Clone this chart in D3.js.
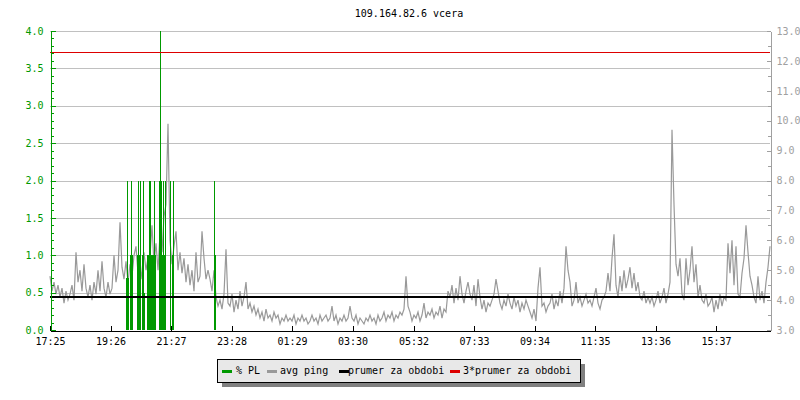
<!DOCTYPE html>
<html>
<head>
<meta charset="utf-8">
<script src="https://cdn.jsdelivr.net/npm/d3@7"></script>
<style>
body { margin: 0; background: #fff; }
text { font-family: "DejaVu Sans Mono", monospace; font-size: 10px; }
</style>
</head>
<body>
<div id="chart"></div>
<script>

//Chart title
let titleText = "109.164.82.6 vcera";

//Tick labels of the time axis (start of period is 17:25, period is 24 h)
let timeLabels = ["17:25", "19:26", "21:27", "23:28", "01:29", "03:30", "05:32", "07:33", "09:34", "11:35", "13:36", "15:37"];

//avg ping [ms], one value every 4 minutes from 17:25
let pingValues = [
    4.8, 4.3, 4.6, 4.2, 4.5, 4.1, 4.4, 3.9, 4.3, 4.0,
    4.2, 4.5, 4.0, 5.6, 4.6, 5.0, 4.3, 5.2, 4.4, 4.1,
    4.5, 4.0, 4.6, 4.2, 5.0, 4.3, 5.3, 4.4, 4.1, 4.6,
    4.2, 4.4, 5.5, 4.6, 5.0, 6.6, 5.1, 4.7, 5.3, 4.6,
    5.2, 4.8, 5.5, 5.8, 4.9, 5.3, 4.7, 5.6, 5.0, 5.4,
    5.5, 6.5, 5.2, 5.9, 5.0, 6.2, 5.6, 6.8, 7.2, 9.9,
    6.0, 5.2, 5.8, 6.3, 5.0, 5.6, 4.9, 5.4, 4.6, 5.2,
    4.5, 5.0, 4.3, 5.6, 4.6, 4.8, 6.3, 5.4, 4.7, 5.0,
    4.7, 4.3, 5.0, 4.1, 3.8, 4.0, 3.7, 4.2, 5.7, 3.9,
    3.8, 4.2, 3.6, 4.0, 3.7, 4.3, 3.8, 4.1, 4.6, 3.7,
    3.9, 3.6, 3.8, 3.5, 3.7, 3.4, 3.6, 3.3, 3.7, 3.4,
    3.5, 3.3, 3.6, 3.4, 3.5, 3.2, 3.4, 3.3, 3.5, 3.3,
    3.4, 3.3, 3.5, 3.2, 3.4, 3.3, 3.5, 3.3, 3.4, 3.2,
    3.3, 3.5, 3.3, 3.4, 3.2, 3.5, 3.3, 3.4, 3.5, 3.3,
    3.4, 3.8, 3.3, 3.5, 3.2, 3.4, 3.3, 3.5, 3.3, 3.4,
    3.8, 3.4, 3.3, 3.5, 3.2, 3.4, 3.3, 3.2, 3.4, 3.3,
    3.5, 3.3, 3.4, 3.2, 3.5, 3.3, 3.4, 3.6, 3.3, 3.5,
    3.4, 3.6, 3.3, 3.5, 3.4, 3.6, 3.5, 3.7, 4.8, 3.8,
    3.6, 3.3, 3.5, 3.4, 3.6, 3.3, 3.5, 3.9, 3.4, 3.6,
    3.5, 3.7, 3.4, 3.6, 3.5, 3.8, 3.4, 3.7, 3.6, 4.3,
    4.1, 4.5, 3.9, 4.4, 4.0, 4.8, 4.2, 3.9, 4.3, 4.6,
    4.2, 4.0, 4.5, 3.8, 4.7, 4.1, 3.7, 4.0, 3.6, 3.9,
    3.8, 4.0, 4.2, 4.7, 4.3, 3.9, 3.7, 4.0, 3.8, 4.2,
    3.9, 3.7, 4.1, 3.8, 4.0, 3.6, 3.9, 3.7, 4.0, 3.8,
    3.6, 3.4, 3.7, 3.3, 4.4, 5.1, 3.8, 3.9, 3.6, 3.8,
    3.9, 4.2, 3.7, 4.0, 3.8, 4.3, 3.9, 4.4, 5.8, 5.0,
    4.6, 3.8, 4.0, 4.6, 3.9, 4.1, 3.8, 4.0, 4.2, 3.9,
    4.0, 3.8, 4.1, 4.4, 3.9, 3.7, 4.0, 4.1, 4.3, 4.9,
    4.3, 5.4, 6.2, 4.5, 4.1, 4.8, 4.3, 5.0, 4.4, 4.7,
    5.1, 4.4, 4.9, 4.3, 4.6, 4.1, 4.0, 4.3, 3.9, 4.1,
    3.9, 4.1, 3.8, 4.0, 4.3, 3.9, 4.1, 4.4, 3.9, 4.2,
    4.6, 9.7, 7.2, 5.2, 4.8, 5.4, 4.2, 4.0, 5.4, 4.5,
    5.0, 5.8, 4.6, 5.2, 4.1, 4.5, 4.0, 3.9, 4.2, 3.8,
    3.9, 4.1, 3.6, 4.0, 3.7, 4.2, 3.8, 4.1, 4.0, 5.9,
    4.9, 6.0, 4.5, 5.8, 4.2, 4.1, 4.9, 5.4, 6.5, 5.6,
    4.8, 4.5, 4.1, 3.9, 4.8, 4.0, 4.3, 3.9, 4.6, 5.1, 5.8
];
let pingStep = 4;

//% PL, only the minutes (from 17:25) with a loss
let plMinutes = [152, 154, 156, 160, 162, 164, 174, 176, 178, 180, 184, 186, 188,
    194, 196, 198, 200, 202, 204, 206, 208, 210, 218, 220, 222, 224, 226, 228, 230,
    240, 244, 246, 328, 330];
let plValues = [0.7, 2.0, 0.7, 1.0, 2.0, 1.0, 1.0, 2.0, 1.0, 2.0, 1.0, 2.0, 0.5,
    1.0, 1.0, 2.0, 2.0, 1.0, 1.0, 1.0, 2.0, 1.0, 2.0, 4.0, 2.0, 1.0, 2.0, 1.0, 2.0,
    2.0, 1.0, 2.0, 2.0, 1.0];

//prumer za obdobi [ms]
let prumer = 4.1;

//Legend
let legendLabels = ["% PL", "avg ping", "prumer za obdobi", "3*prumer za obdobi"];
let legendColors = ["#009900", "#999999", "#000000", "#dd0000"];


class PingChart
{
    constructor ()
    {
        this.width = 800;
        this.height = 400;
        this.margin = {top: 31, right: 30, bottom: 70, left: 50};

        //Adds svg to the div
        this.svg = d3.select("#chart").append("svg")
            .attr("width", this.width)
            .attr("height", this.height)
            .style("shape-rendering", "crispEdges");
    }

    draw ()
    {
        let m = this.margin;
        let x0 = m.left, x1 = this.width - m.right;
        let y0 = this.height - m.bottom, y1 = m.top;

        //Scales
        let xScale = d3.scaleLinear().domain([0, 1440]).range([x0, x1]);
        let yLeft = d3.scaleLinear().domain([0, 4]).range([y0, y1]);
        let yRight = d3.scaleLinear().domain([3, 13]).range([y0, y1]);

        //minutes from 17:25 for each time label
        let tickMinutes = timeLabels.map(t =>
        {
            let p = t.split(":");
            let mins = (+p[0]) * 60 + (+p[1]) - (17 * 60 + 25);
            return (mins + 1440) % 1440;
        });

        //Title
        this.svg.append("text")
            .attr("x", 409)
            .attr("y", 17)
            .attr("text-anchor", "middle")
            .attr("fill", "#000")
            .text(titleText);

        //Grid
        this.svg.append("g").selectAll("line")
            .data(d3.range(0.5, 4.01, 0.5))
            .enter().append("line")
            .attr("x1", x0).attr("x2", x1)
            .attr("y1", d => Math.round(yLeft(d)) + 0.5)
            .attr("y2", d => Math.round(yLeft(d)) + 0.5)
            .attr("stroke", "#c0c0c0");

        //avg ping line
        let line = d3.line()
            .x((d, i) => xScale(i * pingStep))
            .y(d => yRight(d));
        this.svg.append("path")
            .datum(pingValues)
            .attr("d", line)
            .attr("fill", "none")
            .attr("stroke", "#999999")
            .attr("stroke-width", 1.2)
            .style("shape-rendering", "auto");

        //% PL bars
        this.svg.append("g").selectAll("rect")
            .data(plValues)
            .enter().append("rect")
            .attr("x", (d, i) => Math.round(xScale(plMinutes[i])))
            .attr("width", xScale(2) - xScale(0))
            .attr("y", d => Math.round(yLeft(d)))
            .attr("height", d => y0 - Math.round(yLeft(d)))
            .attr("fill", "#009900");

        //prumer and 3*prumer
        this.svg.append("line")
            .attr("x1", x0).attr("x2", x1)
            .attr("y1", yRight(prumer)).attr("y2", yRight(prumer))
            .attr("stroke", "#000").attr("stroke-width", 2);
        this.svg.append("line")
            .attr("x1", x0).attr("x2", x1)
            .attr("y1", Math.round(yRight(3 * prumer)) + 0.5)
            .attr("y2", Math.round(yRight(3 * prumer)) + 0.5)
            .attr("stroke", "#dd0000").attr("stroke-width", 1);

        //Left axis (% PL)
        let leftMinor = d3.axisLeft(yLeft).tickValues(d3.range(0, 4.01, 0.1)).tickSize(-3).tickSizeOuter(0).tickFormat("");
        let leftAxis = d3.axisLeft(yLeft).tickValues(d3.range(0, 4.01, 0.5)).tickSize(-5).tickSizeOuter(0).tickPadding(7).tickFormat(d3.format(".1f"));
        let gl = this.svg.append("g").attr("transform", "translate(" + (x0 + 0.5) + ",0)");
        gl.append("g").call(leftMinor);
        gl.append("g").call(leftAxis);
        gl.selectAll("path, line").attr("stroke", "#009900");
        gl.selectAll("text").attr("fill", "#009900").style("font-size", "10px").style("font-family", "DejaVu Sans Mono");

        //Right axis (avg ping)
        let rightMinor = d3.axisRight(yRight).tickValues(d3.range(3, 13.01, 0.5)).tickSize(-3).tickSizeOuter(0).tickFormat("");
        let rightAxis = d3.axisRight(yRight).tickValues(d3.range(3, 13.01, 1)).tickSize(-4).tickSizeOuter(0).tickPadding(6).tickFormat(d3.format(".1f"));
        let gr = this.svg.append("g").attr("transform", "translate(" + (x1 + 0.5) + ",0)");
        gr.append("g").call(rightMinor);
        gr.append("g").call(rightAxis);
        gr.selectAll("path, line").attr("stroke", "#a0a0a0");
        gr.selectAll("text").attr("fill", "#a0a0a0").style("font-size", "10px").style("font-family", "DejaVu Sans Mono");

        //Time axis
        let xAxis = d3.axisBottom(xScale).tickValues(tickMinutes).tickSize(-5).tickSizeOuter(0).tickPadding(7)
            .tickFormat((d, i) => timeLabels[i]);
        let gx = this.svg.append("g").attr("transform", "translate(0," + (y0 + 0.5) + ")").call(xAxis);
        gx.selectAll("path, line").attr("stroke", "#000");
        gx.selectAll("text").attr("fill", "#000").style("font-size", "10px").style("font-family", "DejaVu Sans Mono");

        //Legend box with shadow
        let legend = this.svg.append("g");
        legend.append("rect")
            .attr("x", 221.5).attr("y", 363.5).attr("width", 363).attr("height", 23)
            .attr("fill", "#808080");
        legend.append("rect")
            .attr("x", 217.5).attr("y", 359.5).attr("width", 363).attr("height", 23)
            .attr("fill", "#e8e8e8").attr("stroke", "#000");

        let swatchX = [222, 267, 339, 450];
        let textX = [236, 280, 348, 463];
        let items = legend.selectAll("g.item")
            .data(legendLabels)
            .enter().append("g").attr("class", "item");
        items.append("line")
            .attr("x1", (d, i) => swatchX[i]).attr("x2", (d, i) => swatchX[i] + 10)
            .attr("y1", 371.5).attr("y2", 371.5)
            .attr("stroke", (d, i) => legendColors[i])
            .attr("stroke-width", 3);
        items.append("text")
            .attr("x", (d, i) => textX[i])
            .attr("y", 374)
            .attr("fill", "#000")
            .text(d => d);
    }
}

let chart = new PingChart();
chart.draw();

</script>
</body>
</html>
